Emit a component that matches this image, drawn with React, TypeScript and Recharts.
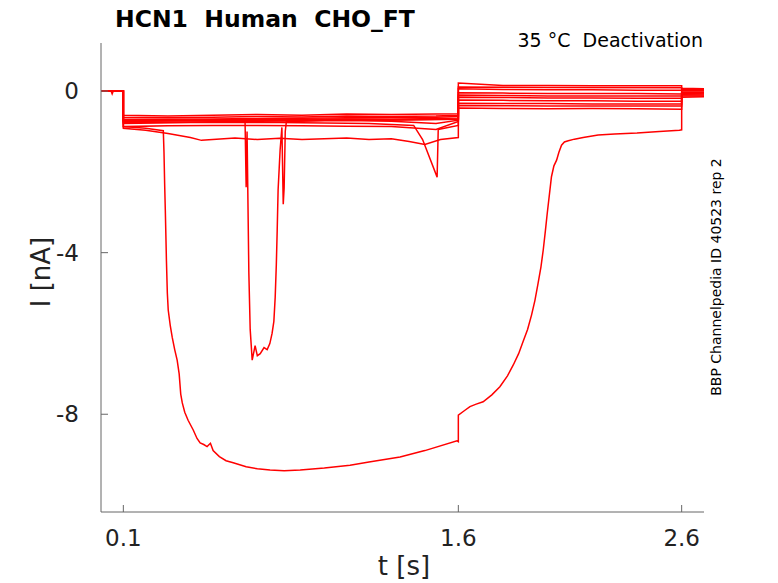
import { LineChart, Line, XAxis, YAxis } from "recharts";

// shared time base for the quiet sweeps (s)
const tFlat = [0, 0.1, 0.1, 0.3, 0.5, 0.7, 0.9, 1.1, 1.3, 1.5, 1.6, 1.6, 1.8, 2.0, 2.2, 2.4, 2.6, 2.6, 2.7];

// current (nA) of the quiet sweeps
const sweep1 = [0, 0, -0.6, -0.62, -0.6, -0.58, -0.6, -0.57, -0.58, -0.57, -0.56, 0.2, 0.14, 0.14, 0.13, 0.13, 0.13, 0.07, 0.06];
const sweep2 = [0, 0, -0.65, -0.66, -0.65, -0.63, -0.64, -0.62, -0.63, -0.62, -0.6, 0.06, 0.04, 0.03, 0.03, 0.02, 0.02, 0.03, 0.03];
const sweep3 = [0, 0, -0.7, -0.7, -0.69, -0.68, -0.67, -0.66, -0.66, -0.65, -0.63, -0.04, -0.05, -0.06, -0.06, -0.06, -0.07, 0.0, 0.0];
const sweep4 = [0, 0, -0.72, -0.72, -0.71, -0.7, -0.7, -0.69, -0.7, -0.68, -0.67, -0.1, -0.11, -0.12, -0.12, -0.12, -0.12, -0.03, -0.03];
const sweep5 = [0, 0, -0.75, -0.74, -0.73, -0.72, -0.72, -0.7, -0.71, -0.7, -0.69, -0.15, -0.16, -0.17, -0.17, -0.18, -0.18, -0.06, -0.05];
const sweep6 = [0, 0, -0.78, -0.77, -0.76, -0.75, -0.74, -0.73, -0.75, -0.8, -0.72, -0.22, -0.23, -0.24, -0.24, -0.25, -0.25, -0.08, -0.07];
const sweep7 = [0, 0, -0.88, -0.86, -0.85, -0.85, -0.86, -0.87, -0.88, -0.95, -0.75, -0.3, -0.31, -0.31, -0.32, -0.32, -0.32, -0.1, -0.1];

// slowly sinking sweep
const tLow = [0, 0.1, 0.1, 0.2, 0.3, 0.4, 0.45, 0.5, 0.6, 0.7, 0.8, 0.9, 1.0, 1.1, 1.2, 1.3, 1.38, 1.45, 1.52, 1.6, 1.6, 1.8, 2.0, 2.2, 2.4, 2.6, 2.6, 2.7];
const iLow = [0, 0, -0.92, -0.97, -1.05, -1.15, -1.22, -1.2, -1.16, -1.2, -1.17, -1.2, -1.18, -1.16, -1.2, -1.18, -1.25, -1.32, -1.2, -1.15, -0.42, -0.43, -0.44, -0.43, -0.44, -0.45, -0.15, -0.14];

// sweep with the dip near 1.5 s
const tDip = [0, 0.1, 0.1, 0.4, 0.8, 1.2, 1.4, 1.44, 1.505, 1.51, 1.6, 1.6, 2.0, 2.6, 2.6, 2.7];
const iDip = [0, 0, -0.8, -0.78, -0.78, -0.8, -0.85, -1.2, -2.13, -0.95, -0.85, -0.36, -0.37, -0.37, -0.12, -0.12];

// sweep with the -6.6 nA trough
const tMid = [0, 0.1, 0.1, 0.4, 0.645, 0.65, 0.654, 0.662, 0.668, 0.677, 0.69, 0.7, 0.713, 0.73, 0.744, 0.756, 0.766, 0.774, 0.78, 0.785, 0.789, 0.793, 0.798, 0.802, 0.81, 0.816, 0.82, 0.825, 0.83, 1.0, 1.3, 1.6, 1.6, 2.0, 2.6, 2.6, 2.7];
const iMid = [0, 0, -0.74, -0.73, -0.74, -2.38, -1.0, -4.5, -5.9, -6.66, -6.3, -6.55, -6.5, -6.35, -6.4, -6.25, -6.0, -5.7, -5.1, -4.3, -3.44, -2.45, -1.9, -1.46, -0.9, -2.8, -2.4, -1.0, -0.76, -0.72, -0.72, -0.7, 0.1, 0.09, 0.08, 0.02, 0.02];

// big inward sweep
const tBig = [
  0, 0.045, 0.05, 0.055, 0.1, 0.1, 0.2, 0.279, 0.282, 0.285, 0.288, 0.293, 0.297, 0.301, 0.31, 0.319, 0.33,
  0.341, 0.35, 0.357, 0.364, 0.375, 0.39, 0.413, 0.43, 0.444, 0.46, 0.475, 0.49, 0.502, 0.53, 0.56, 0.592,
  0.65, 0.7, 0.757, 0.82, 0.892, 1.0, 1.115, 1.2, 1.339, 1.45, 1.594, 1.6, 1.6, 1.625, 1.652, 1.68, 1.711,
  1.75, 1.786, 1.82, 1.846, 1.87, 1.89, 1.91, 1.928, 1.943, 1.957, 1.97, 1.98, 1.99, 1.998, 2.008, 2.017,
  2.028, 2.04, 2.05, 2.062, 2.075, 2.092, 2.12, 2.159, 2.226, 2.3, 2.4, 2.5, 2.59, 2.6, 2.6, 2.7,
];
const iBig = [
  0, 0, -0.07, 0, 0, -0.88, -0.92, -0.98, -1.5, -2.3, -2.95, -4.2, -5.0, -5.42, -5.8, -6.1, -6.4,
  -6.66, -7.0, -7.5, -7.72, -7.95, -8.15, -8.39, -8.6, -8.71, -8.75, -8.8, -8.72, -8.9, -9.05, -9.15, -9.2,
  -9.3, -9.35, -9.38, -9.4, -9.38, -9.33, -9.26, -9.18, -9.06, -8.9, -8.66, -8.68, -8.02, -7.92, -7.81, -7.75, -7.69,
  -7.52, -7.32, -7.05, -6.78, -6.5, -6.2, -5.9, -5.54, -5.18, -4.76, -4.35, -3.94, -3.45, -3.03, -2.55, -2.12,
  -1.85, -1.71, -1.52, -1.34, -1.26, -1.23, -1.19, -1.15, -1.09, -1.06, -1.04, -1.0, -0.97, -0.96, -0.05, -0.05,
];

const xTicks = [0.1, 1.6, 2.6];
const yTicks = [0, -4, -8];

const toRows = (t: number[], v: number[]) => t.map((x, k) => ({ t: x, i: v[k] }));

const traces = [
  toRows(tFlat, sweep1),
  toRows(tFlat, sweep2),
  toRows(tFlat, sweep3),
  toRows(tFlat, sweep4),
  toRows(tFlat, sweep5),
  toRows(tFlat, sweep6),
  toRows(tFlat, sweep7),
  toRows(tLow, iLow),
  toRows(tDip, iDip),
  toRows(tMid, iMid),
  toRows(tBig, iBig),
];

const font = "DejaVu Sans";
const axisGrey = "#666";

const XTick = ({ x, y, payload }: any) => (
  <g>
    <line x1={x} x2={x} y1={y} y2={y - 7} stroke={axisGrey} />
    <text x={x} y={y + 34} textAnchor="middle" fontSize={23} fill="#222" fontFamily={font}>
      {payload.value}
    </text>
  </g>
);

const YTick = ({ x, y, payload }: any) => (
  <g>
    <line x1={x} x2={x + 7} y1={y} y2={y} stroke={axisGrey} />
    <text x={x - 22} y={y + 8} textAnchor="end" fontSize={23} fill="#222" fontFamily={font}>
      {payload.value}
    </text>
  </g>
);

export default function App() {
  return (
    <div style={{ position: "absolute", left: 0, top: 0, width: 778, height: 583, background: "#fff" }}>
      <LineChart width={778} height={583} margin={{ top: 43, right: 74, bottom: 31, left: 41 }}>
        <XAxis
          dataKey="t"
          type="number"
          domain={[0, 2.7]}
          ticks={xTicks}
          allowDataOverflow
          height={40}
          tickSize={0}
          tickMargin={0}
          tickLine={false}
          tick={<XTick />}
          axisLine={{ stroke: axisGrey }}
        />
        <YAxis
          type="number"
          domain={[-10.42, 1.19]}
          ticks={yTicks}
          allowDataOverflow
          width={60}
          tickSize={0}
          tickMargin={0}
          tickLine={false}
          tick={<YTick />}
          axisLine={{ stroke: axisGrey }}
        />
        {traces.map((rows, k) => (
          <Line
            key={k}
            data={rows}
            dataKey="i"
            type="linear"
            stroke="#ff0000"
            strokeWidth={1.5}
            dot={false}
            activeDot={false}
            isAnimationActive={false}
          />
        ))}
      </LineChart>
      <svg width={778} height={583} style={{ position: "absolute", left: 0, top: 0, pointerEvents: "none" }}>
        <text x={115} y={27} fontSize={23.5} fontWeight="bold" fontFamily={font} style={{ whiteSpace: "pre" }}>
          HCN1  Human  CHO_FT
        </text>
        <text x={703} y={47} textAnchor="end" fontSize={19} fontFamily={font} style={{ whiteSpace: "pre" }}>
          35 °C  Deactivation
        </text>
        <text x={404} y={575} textAnchor="middle" fontSize={26} fill="#222" fontFamily={font}>
          t [s]
        </text>
        <text
          x={0}
          y={0}
          transform="translate(50 272) rotate(-90)"
          textAnchor="middle"
          fontSize={26}
          fill="#222"
          fontFamily={font}
        >
          I [nA]
        </text>
        <text
          x={0}
          y={0}
          transform="translate(721 277) rotate(-90)"
          textAnchor="middle"
          fontSize={14}
          fontFamily={font}
        >
          BBP Channelpedia ID 40523 rep 2
        </text>
      </svg>
    </div>
  );
}
